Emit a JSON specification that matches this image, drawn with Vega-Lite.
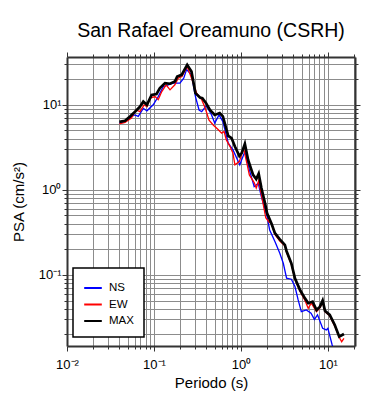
{
  "$schema": "https://vega.github.io/schema/vega-lite/v6.json",
  "width": 288,
  "height": 289,
  "autosize": {"type": "none"},
  "padding": {"left": 67, "top": 57, "right": 35, "bottom": 54},
  "title": {"text": "San Rafael Oreamuno (CSRH)", "fontSize": 19.5, "font": "Liberation Sans", "fontWeight": "normal", "color": "#000", "frame": "group", "anchor": "middle", "offset": 10},
  "data": {"values": [
    {"c":"NS","T":0.040,"v":6.1},{"c":"NS","T":0.0465,"v":6.35},{"c":"NS","T":0.055,"v":7.3},{"c":"NS","T":0.0605,"v":7.6},{"c":"NS","T":0.066,"v":7.3},{"c":"NS","T":0.0754,"v":9.1},{"c":"NS","T":0.083,"v":8.5},{"c":"NS","T":0.098,"v":10.0},{"c":"NS","T":0.112,"v":12.5},{"c":"NS","T":0.128,"v":16.4},{"c":"NS","T":0.146,"v":17.2},{"c":"NS","T":0.166,"v":18.0},{"c":"NS","T":0.199,"v":18.0},{"c":"NS","T":0.22,"v":20.6},{"c":"NS","T":0.237,"v":26.0},{"c":"NS","T":0.27,"v":22.5},{"c":"NS","T":0.30,"v":12.5},{"c":"NS","T":0.33,"v":8.7},{"c":"NS","T":0.354,"v":8.3},{"c":"NS","T":0.40,"v":9.8},{"c":"NS","T":0.46,"v":7.6},{"c":"NS","T":0.50,"v":6.1},{"c":"NS","T":0.56,"v":7.6},{"c":"NS","T":0.62,"v":6.35},{"c":"NS","T":0.715,"v":3.54},{"c":"NS","T":0.81,"v":2.95},{"c":"NS","T":0.97,"v":1.97},{"c":"NS","T":1.11,"v":2.82},{"c":"NS","T":1.25,"v":1.72},{"c":"NS","T":1.42,"v":1.09},{"c":"NS","T":1.58,"v":1.2},{"c":"NS","T":1.72,"v":0.83},{"c":"NS","T":2.0,"v":0.485},{"c":"NS","T":2.14,"v":0.338},{"c":"NS","T":2.46,"v":0.247},{"c":"NS","T":2.8,"v":0.18},{"c":"NS","T":3.07,"v":0.137},{"c":"NS","T":3.35,"v":0.0914},{"c":"NS","T":3.8,"v":0.089},{"c":"NS","T":4.18,"v":0.073},{"c":"NS","T":4.55,"v":0.0508},{"c":"NS","T":4.95,"v":0.037},{"c":"NS","T":5.65,"v":0.0387},{"c":"NS","T":6.4,"v":0.0354},{"c":"NS","T":7.0,"v":0.030},{"c":"NS","T":7.6,"v":0.0339},{"c":"NS","T":8.7,"v":0.0236},{"c":"NS","T":9.6,"v":0.0226},{"c":"NS","T":10.0,"v":0.0236},{"c":"NS","T":11.2,"v":0.015},{"c":"NS","T":12.0,"v":0.012},
    {"c":"EW","T":0.040,"v":5.97},{"c":"EW","T":0.0465,"v":6.2},{"c":"EW","T":0.055,"v":7.0},{"c":"EW","T":0.0625,"v":8.7},{"c":"EW","T":0.069,"v":8.3},{"c":"EW","T":0.077,"v":10.0},{"c":"EW","T":0.083,"v":9.5},{"c":"EW","T":0.090,"v":12.0},{"c":"EW","T":0.103,"v":12.5},{"c":"EW","T":0.112,"v":11.5},{"c":"EW","T":0.123,"v":14.3},{"c":"EW","T":0.138,"v":17.2},{"c":"EW","T":0.153,"v":15.0},{"c":"EW","T":0.174,"v":17.2},{"c":"EW","T":0.19,"v":20.6},{"c":"EW","T":0.21,"v":21.5},{"c":"EW","T":0.241,"v":28.2},{"c":"EW","T":0.27,"v":20.6},{"c":"EW","T":0.31,"v":13.7},{"c":"EW","T":0.354,"v":11.5},{"c":"EW","T":0.386,"v":9.3},{"c":"EW","T":0.43,"v":6.6},{"c":"EW","T":0.48,"v":5.8},{"c":"EW","T":0.55,"v":5.1},{"c":"EW","T":0.60,"v":4.65},{"c":"EW","T":0.64,"v":4.85},{"c":"EW","T":0.68,"v":3.87},{"c":"EW","T":0.75,"v":3.23},{"c":"EW","T":0.81,"v":2.7},{"c":"EW","T":0.853,"v":1.97},{"c":"EW","T":0.96,"v":2.15},{"c":"EW","T":1.07,"v":3.1},{"c":"EW","T":1.17,"v":2.06},{"c":"EW","T":1.25,"v":1.5},{"c":"EW","T":1.42,"v":1.22},{"c":"EW","T":1.50,"v":1.05},{"c":"EW","T":1.60,"v":1.28},{"c":"EW","T":1.75,"v":0.8},{"c":"EW","T":1.93,"v":0.47},{"c":"EW","T":2.1,"v":0.42},{"c":"EW","T":2.25,"v":0.40},{"c":"EW","T":2.46,"v":0.30},{"c":"EW","T":2.8,"v":0.25},{"c":"EW","T":3.2,"v":0.22},{"c":"EW","T":3.35,"v":0.185},{"c":"EW","T":3.8,"v":0.133},{"c":"EW","T":4.18,"v":0.089},{"c":"EW","T":4.8,"v":0.064},{"c":"EW","T":5.45,"v":0.05},{"c":"EW","T":5.94,"v":0.0406},{"c":"EW","T":6.45,"v":0.0465},{"c":"EW","T":7.41,"v":0.037},{"c":"EW","T":8.1,"v":0.041},{"c":"EW","T":8.7,"v":0.048},{"c":"EW","T":9.25,"v":0.037},{"c":"EW","T":10.5,"v":0.033},{"c":"EW","T":12.0,"v":0.025},{"c":"EW","T":13.5,"v":0.0185},{"c":"EW","T":14.4,"v":0.0164},{"c":"EW","T":15.3,"v":0.018},
    {"c":"MAX","T":0.040,"v":6.3},{"c":"MAX","T":0.0465,"v":6.5},{"c":"MAX","T":0.053,"v":7.3},{"c":"MAX","T":0.0605,"v":8.3},{"c":"MAX","T":0.069,"v":9.5},{"c":"MAX","T":0.0754,"v":10.9},{"c":"MAX","T":0.083,"v":10.0},{"c":"MAX","T":0.094,"v":13.1},{"c":"MAX","T":0.107,"v":13.4},{"c":"MAX","T":0.117,"v":15.7},{"c":"MAX","T":0.134,"v":18.0},{"c":"MAX","T":0.153,"v":17.7},{"c":"MAX","T":0.174,"v":18.8},{"c":"MAX","T":0.185,"v":21.5},{"c":"MAX","T":0.208,"v":22.5},{"c":"MAX","T":0.241,"v":29.5},{"c":"MAX","T":0.27,"v":24.6},{"c":"MAX","T":0.30,"v":13.7},{"c":"MAX","T":0.338,"v":12.2},{"c":"MAX","T":0.36,"v":12.0},{"c":"MAX","T":0.396,"v":10.5},{"c":"MAX","T":0.44,"v":8.7},{"c":"MAX","T":0.50,"v":7.6},{"c":"MAX","T":0.57,"v":8.0},{"c":"MAX","T":0.62,"v":7.3},{"c":"MAX","T":0.715,"v":4.3},{"c":"MAX","T":0.78,"v":4.06},{"c":"MAX","T":0.853,"v":3.23},{"c":"MAX","T":0.96,"v":2.5},{"c":"MAX","T":1.02,"v":2.7},{"c":"MAX","T":1.11,"v":3.48},{"c":"MAX","T":1.21,"v":2.25},{"c":"MAX","T":1.38,"v":1.5},{"c":"MAX","T":1.5,"v":1.34},{"c":"MAX","T":1.6,"v":1.55},{"c":"MAX","T":1.72,"v":1.05},{"c":"MAX","T":1.89,"v":0.70},{"c":"MAX","T":2.0,"v":0.53},{"c":"MAX","T":2.25,"v":0.40},{"c":"MAX","T":2.46,"v":0.31},{"c":"MAX","T":2.8,"v":0.262},{"c":"MAX","T":3.2,"v":0.225},{"c":"MAX","T":3.35,"v":0.19},{"c":"MAX","T":3.8,"v":0.137},{"c":"MAX","T":4.18,"v":0.091},{"c":"MAX","T":4.8,"v":0.066},{"c":"MAX","T":5.45,"v":0.053},{"c":"MAX","T":5.94,"v":0.0465},{"c":"MAX","T":6.67,"v":0.0486},{"c":"MAX","T":7.41,"v":0.0387},{"c":"MAX","T":8.1,"v":0.0424},{"c":"MAX","T":8.7,"v":0.050},{"c":"MAX","T":9.25,"v":0.038},{"c":"MAX","T":10.5,"v":0.0339},{"c":"MAX","T":12.0,"v":0.0258},{"c":"MAX","T":13.5,"v":0.0188},{"c":"MAX","T":15.3,"v":0.0202}
  ]},
  "layer": [
    {
      "transform": [{"filter": "datum.c == 'NS'"}],
      "mark": {"type": "line", "clip": true, "strokeWidth": 1.3},
      "encoding": {
        "x": {"field": "T", "type": "quantitative", "scale": {"type": "log", "domain": [0.01, 20.5], "nice": false},
              "axis": {"orient": "bottom", "values": [0.02,0.03,0.04,0.05,0.06,0.07,0.08,0.09,0.1,0.2,0.3,0.4,0.5,0.6,0.7,0.8,0.9,1,2,3,4,5,6,7,8,9,10,20], "grid": true, "labels": false, "tickSize": 3, "domain": true, "title": null}},
        "y": {"field": "v", "type": "quantitative", "scale": {"type": "log", "domain": [0.0146, 36.5], "nice": false},
              "axis": {"orient": "left", "values": [0.02,0.03,0.04,0.05,0.06,0.07,0.08,0.09,0.1,0.2,0.3,0.4,0.5,0.6,0.7,0.8,0.9,1,2,3,4,5,6,7,8,9,10,20,30], "grid": true, "labels": false, "tickSize": 3, "domain": true, "title": null}},
        "color": {"field": "c", "type": "nominal", "scale": {"domain": ["NS", "EW", "MAX"], "range": ["#0000ff", "#ff0000", "#000000"]},
                  "legend": {"orient": "none", "legendX": 6, "legendY": 211, "title": null, "padding": 10, "symbolType": "stroke", "symbolSize": 310, "symbolStrokeWidth": 2, "labelFontSize": 11.5, "labelOffset": 6, "rowPadding": 0.5, "fillColor": "white", "strokeColor": "black"}}
      }
    },
    {
      "transform": [{"filter": "datum.c == 'EW'"}],
      "mark": {"type": "line", "clip": true, "strokeWidth": 1.3},
      "encoding": {
        "x": {"field": "T", "type": "quantitative", "axis": null},
        "y": {"field": "v", "type": "quantitative", "axis": null},
        "color": {"field": "c", "type": "nominal"}
      }
    },
    {
      "transform": [{"filter": "datum.c == 'MAX'"}],
      "mark": {"type": "line", "clip": true, "strokeWidth": 2.7},
      "encoding": {
        "x": {"field": "T", "type": "quantitative", "axis": null},
        "y": {"field": "v", "type": "quantitative", "axis": null},
        "color": {"field": "c", "type": "nominal"}
      }
    },
    {
      "mark": {"type": "point", "opacity": 0},
      "encoding": {
        "x": {"field": "T", "type": "quantitative", "axis": {"orient": "bottom", "values": [0.01, 0.1, 1, 10], "grid": false, "tickSize": 5, "labelPadding": 7, "labelFlush": false, "domain": false, "labelExpr": "datum.value < 0.05 ? '10⁻²' : datum.value < 0.5 ? '10⁻¹' : datum.value < 5 ? '10⁰' : '10¹'", "title": "Periodo (s)", "titlePadding": 4}},
        "y": {"field": "v", "type": "quantitative", "axis": {"orient": "left", "values": [0.1, 1, 10], "grid": false, "tickSize": 5, "labelPadding": 1, "labelFlush": false, "domain": false, "labelExpr": "datum.value < 0.5 ? '10⁻¹' : datum.value < 5 ? '10⁰' : '10¹'", "title": "PSA (cm/s²)", "titlePadding": 12}}
      }
    },
    {
      "mark": {"type": "point", "opacity": 0},
      "encoding": {
        "x": {"field": "T", "type": "quantitative", "axis": {"orient": "top", "values": [0.02,0.03,0.04,0.05,0.06,0.07,0.08,0.09,0.1,0.2,0.3,0.4,0.5,0.6,0.7,0.8,0.9,1,2,3,4,5,6,7,8,9,10,20], "grid": false, "labels": false, "tickSize": 3, "domain": true, "title": null}},
        "y": {"field": "v", "type": "quantitative", "axis": {"orient": "right", "values": [0.02,0.03,0.04,0.05,0.06,0.07,0.08,0.09,0.1,0.2,0.3,0.4,0.5,0.6,0.7,0.8,0.9,1,2,3,4,5,6,7,8,9,10,20,30], "grid": false, "labels": false, "tickSize": 3, "domain": true, "title": null}}
      }
    },
    {
      "mark": {"type": "point", "opacity": 0},
      "encoding": {
        "x": {"field": "T", "type": "quantitative", "axis": {"orient": "top", "values": [0.01, 0.1, 1, 10], "grid": false, "labels": false, "tickSize": 5, "domain": false, "title": null}},
        "y": {"field": "v", "type": "quantitative", "axis": {"orient": "right", "values": [0.1, 1, 10], "grid": false, "labels": false, "tickSize": 5, "domain": false, "title": null}}
      }
    }
  ],
  "resolve": {"axis": {"x": "independent", "y": "independent"}},
  "config": {
    "view": {"stroke": null},
    "axis": {"domainColor": "#333", "domainWidth": 2, "tickColor": "#333", "tickWidth": 1, "labelFont": "Liberation Sans", "titleFont": "Liberation Sans", "labelColor": "#000", "titleColor": "#000", "titleFontWeight": "normal", "labelFontSize": 13, "titleFontSize": 15, "gridColor": "#8c8c8c", "gridWidth": 1, "gridOpacity": 1},
    "legend": {"strokeWidth": 1.5, "labelFont": "Liberation Sans", "labelColor": "#000"}
  }
}
